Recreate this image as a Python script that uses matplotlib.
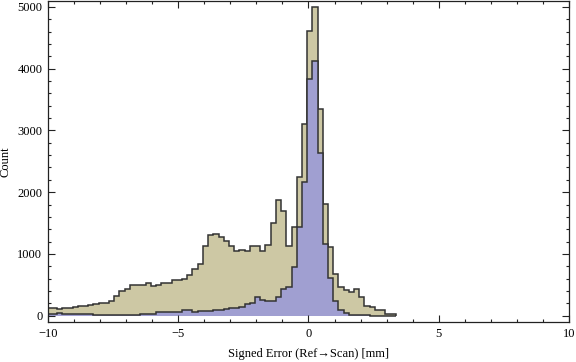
import numpy as np
import matplotlib
matplotlib.use("Agg")
import matplotlib.pyplot as plt
from matplotlib.ticker import MultipleLocator

plt.rcParams['font.family'] = ['Liberation Serif', 'DejaVu Serif']

# histogram bins: width 0.2 mm, first edge at -10.05
bin_start = -10.05
bin_width = 0.2

# counts, one per bin (left to right)
all_counts = [
    130, 130, 112, 128, 128, 143, 158, 160, 180, 182,
    198, 200, 240, 315, 398, 425, 500, 490, 490, 522,
    474, 490, 527, 527, 571, 571, 593, 655, 750, 836,
    1123, 1302, 1318, 1279, 1214, 1133, 1042, 1058, 1042, 1123,
    1123, 1042, 1137, 1497, 1875, 1701, 1133, 1432, 2253, 3100,
    4607, 5005, 3352, 1805, 1107, 669, 458, 414, 377, 425,
    295, 154, 133, 89, 89, 35, 35,
]
subset_counts = [
    30, 30, 45, 35, 30, 20, 20, 20, 20, 15,
    15, 15, 15, 15, 15, 15, 15, 15, 30, 35,
    25, 55, 60, 60, 60, 60, 85, 85, 65, 78,
    78, 80, 90, 100, 108, 117, 125, 143, 187, 198,
    295, 255, 235, 230, 295, 440, 465, 790, 1430, 2160,
    3840, 4130, 2633, 1160, 604, 241, 100, 46, 10, 8,
    5, 5, 0, 0, 0, 0, 0,
]

edges = bin_start + bin_width * np.arange(len(all_counts) + 1)

fig = plt.figure(figsize=(5.76, 3.62), dpi=100)
ax = fig.add_axes([0.083, 0.110, 0.905, 0.887])

tan = '#cdc8a4'
blue = '#a09fd1'
edge = '#333333'

ax.stairs(all_counts, edges, fill=True, facecolor=tan, edgecolor='none')
ax.stairs(all_counts, edges, baseline=0, color=edge, lw=1.1)
ax.stairs(subset_counts, edges, fill=True, facecolor=blue, edgecolor='none')
ax.stairs(subset_counts, edges, baseline=0, color=edge, lw=1.1)

ax.set_xlim(-10, 10)
ax.set_ylim(-105, 5095)

ax.xaxis.set_major_locator(MultipleLocator(5))
ax.xaxis.set_minor_locator(MultipleLocator(1))
ax.yaxis.set_major_locator(MultipleLocator(1000))
ax.yaxis.set_minor_locator(MultipleLocator(200))
ax.tick_params(which='both', direction='in', top=True, right=True,
               labelsize=9, color='#222222', width=0.8, pad=4)
ax.tick_params(which='major', length=5)
ax.tick_params(which='minor', length=2.5)
for s in ax.spines.values():
    s.set_linewidth(0.9)
    s.set_color('#222222')

ax.set_xlabel('Signed Error (Ref\u2192Scan) [mm]', fontsize=9, labelpad=6)
ax.set_ylabel('Count', fontsize=9, labelpad=4)

fig.savefig('out.png', dpi=100)
